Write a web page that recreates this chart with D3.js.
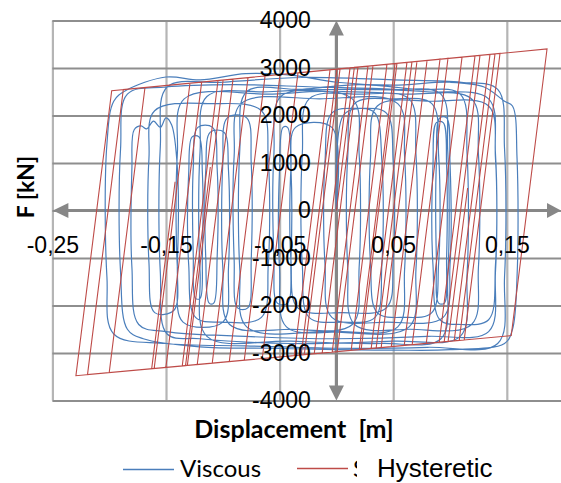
<!DOCTYPE html>
<html>
<head>
<meta charset="utf-8">
<script src="https://cdn.jsdelivr.net/npm/d3@7/dist/d3.min.js"></script>
<style>
  body { margin: 0; background: #fff; }
  svg { display: block; }
</style>
</head>
<body>
<div id="chart"></div>
<script>
// tick values
const xTicks = [-0.25, -0.15, -0.05, 0.05, 0.15];
const yTicks = [-4000, -3000, -2000, -1000, 0, 1000, 2000, 3000, 4000];
const seriesNames = ["Viscous", "Hysteretic"];

// viscous damper: [displacement m, force kN]
const viscous = [
  [0.000,0],[0.006,2000],[0.020,2150],[0.034,2050],[0.040,1050],
  [0.040,-1150],[0.034,-2250],[0.005,-2350],[-0.024,-2250],[-0.030,-1150],
  [-0.030,1200],[-0.024,2350],[0.020,2450],[0.064,2350],[0.070,1200],
  [0.070,-1250],[0.064,-2450],[-0.010,-2550],[-0.079,-2450],[-0.085,-1250],
  [-0.085,1300],[-0.079,2500],[-0.030,2550],[0.020,2650],[0.070,2550],[0.109,2450],[0.115,1200],
  [0.115,-1350],[0.109,-2650],[0.050,-2750],[-0.040,-2800],[-0.120,-2700],[-0.149,-2600],[-0.155,-1300],
  [-0.155,1350],[-0.149,2600],[-0.100,2700],[-0.030,2800],[0.050,2750],[0.110,2700],[0.142,2550],[0.148,1300],
  [0.148,-1400],[0.142,-2800],[0.080,-2880],[0.000,-2900],[-0.080,-2850],[-0.150,-2800],[-0.196,-2600],[-0.202,-1400],
  [-0.202,1400],[-0.196,2300],[-0.185,2530],[-0.150,2810],[-0.120,2750],[-0.080,2880],[-0.040,2850],[0.000,2700],[0.050,2640],[0.100,2700],[0.130,2600],[0.148,2300],[0.155,2200],[0.159,1100],
  [0.159,-1400],[0.155,-2500],[0.148,-2800],[0.100,-2930],[0.050,-2940],[0.000,-2930],[-0.060,-2900],[-0.120,-2870],[-0.170,-2700],[-0.184,-2500],[-0.190,-1300],
  [-0.190,1300],[-0.184,2450],[-0.150,2600],[-0.090,2650],[-0.020,2600],[0.050,2550],[0.092,2450],[0.098,1250],
  [0.098,-1400],[0.092,-2700],[0.040,-2800],[-0.040,-2750],[-0.114,-2650],[-0.120,-1300],
  [-0.120,1250],[-0.114,2400],[-0.060,2500],[0.010,2550],[0.080,2500],[0.134,2350],[0.140,1200],
  [0.140,-1300],[0.134,-2550],[0.080,-2650],[0.000,-2700],[-0.080,-2650],[-0.150,-2550],[-0.174,-2400],[-0.180,-1200],
  [-0.180,900],[-0.178,1700],[-0.172,1780],[-0.167,1720],[-0.161,1880],[-0.155,1750],[-0.150,1950],[-0.145,1800],[-0.140,900],
  [-0.140,-1100],[-0.143,-2100],[-0.160,-2150],[-0.165,-1100],
  [-0.165,1100],[-0.160,2100],[-0.110,2250],[-0.066,2100],[-0.060,1100],
  [-0.060,-1150],[-0.066,-2250],[-0.100,-2350],[-0.124,-2250],[-0.130,-1150],
  [-0.130,800],[-0.127,1550],[-0.121,1550],[-0.118,800],
  [-0.118,-950],[-0.120,-1850],[-0.124,-1850],[-0.126,-950],
  [-0.126,900],[-0.122,1750],[-0.109,1750],[-0.105,900],
  [-0.105,-1000],[-0.108,-1950],[-0.112,-1950],[-0.115,-1000],
  [-0.115,850],[-0.111,1650],[-0.099,1650],[-0.095,850],
  [-0.095,-1200],[-0.100,-2350],[-0.135,-2350],[-0.140,-1200],
  [-0.140,1200],[-0.134,2350],[-0.060,2450],[0.014,2350],[0.020,1200],
  [0.020,-1200],[0.014,-2400],[-0.040,-2500],[-0.094,-2400],[-0.100,-1200],
  [-0.100,1000],[-0.096,1950],[-0.079,1950],[-0.075,1000],
  [-0.075,-1050],[-0.078,-2050],[-0.087,-2050],[-0.090,-1050],
  [-0.090,1150],[-0.084,2250],[-0.015,2350],[0.054,2250],[0.060,1150],
  [0.060,-1250],[0.054,-2450],[0.005,-2550],[-0.044,-2450],[-0.050,-1250],
  [-0.050,900],[-0.047,1750],[-0.043,1750],[-0.040,900],
  [-0.040,-1000],[-0.043,-1950],[-0.052,-1950],[-0.055,-1000],
  [-0.055,1200],[-0.049,2400],[0.000,2500],[0.060,2450],[0.119,2350],[0.125,1200],
  [0.125,-1200],[0.119,-2400],[0.065,-2500],[0.016,-2400],[0.010,-1200],
  [0.010,1150],[0.016,2250],[0.050,2350],[0.084,2250],[0.090,1150],
  [0.090,-1100],[0.084,-2150],[0.060,-2250],[0.036,-2150],[0.030,-1100],
  [0.030,1100],[0.036,2200],[0.085,2300],[0.134,2200],[0.140,1100],
  [0.140,-1150],[0.134,-2300],[0.110,-2400],[0.091,-2300],[0.085,-1150],
  [0.085,950],[0.088,1850],[0.094,1850],[0.097,950],
  [0.097,-1000],[0.095,-1950],[0.090,-1950],[0.088,-1000],
  [0.088,1000],[0.091,1950],[0.097,1950],[0.100,1000],
  [0.100,-1150],[0.094,-2250],[0.045,-2350],[-0.004,-2250],[-0.010,-1150],
  [-0.010,1050],[-0.004,2050],[0.020,2150],[0.044,2050],[0.050,1050],
  [0.050,-1050],[0.044,-2050],[0.005,-2150],[-0.034,-2050],[-0.040,-1050],
  [-0.040,900],[-0.036,1750],[-0.004,1750],[0.000,0]
];

// hysteretic damper: [displacement m, force kN] (vertices of the bilinear path)
const hysteretic = [
  [0,0],[0.0158,3015],[0.0445,3078],[0.0130,-2944],[-0.0371,-3055],[-0.0056,2963],
  [0.0709,3138],[0.0394,-2886],[-0.0943,-3181],[-0.0628,2832],[0.1106,3229],[0.0791,-2798],
  [-0.1357,-3272],[-0.1042,2737],[0.1352,3286],[0.1037,-2744],
  [-0.1328,-3266],[-0.111,916],[-0.1328,-3266],
  [-0.2000,-3414],[-0.1685,2589],[0.1854,3401],[0.1539,-2634],
  [0.0983,-2757],[0.1155,474],[0.0983,-2757],
  [-0.1626,-3331],[-0.142,606],[-0.1626,-3331],
  [-0.2293,-3478],[-0.1978,2522],[0.1440,3306],[0.1125,-2725],[-0.2191,-3456],[-0.1876,2545],
  [0.1396,3296],[0.1081,-2735],[-0.1604,-3326],[-0.1289,2680],[0.1264,3266],[0.0949,-2764],
  [-0.1501,-3304],[-0.1186,2704],[0.1220,3256],[0.0905,-2773],[-0.1312,-3262],[-0.0997,2747],
  [0.0982,3201],[0.0667,-2826],[-0.1225,-3243],[-0.0910,2767],[0.0912,3185],[0.0597,-2841],
  [-0.1093,-3214],[-0.0778,2797],[0.0798,3159],[0.0483,-2866],[-0.0811,-3152],[-0.0496,2862],
  [0.0665,3128],[0.0350,-2896],[-0.0653,-3117],[-0.0338,2898],[0.0621,3118],[0.0306,-2905],
  [-0.0310,-3041],[0.0005,2977],[0.0533,3098],[0.0218,-2925],[-0.0283,-3035],[0.0032,2983],
  [0.0516,3094],[0.0201,-2928],[-0.0195,-3016],[0.0120,3003],[0.0322,3049],[0.0007,-2971],
  [-0.0125,-3000],[0.0190,3019],[0.0278,3039],[-0.0037,-2981],[0.0119,0]
];

const width = 561, height = 483;
const plot = {left: 52.4, right: 561, top: 20.5, bottom: 400.5};
const blue = "#4a7ebb", red = "#be4b48";
const labelFont = "'Liberation Sans', Arial, sans-serif";
const titleFont = "Lato, 'Open Sans', sans-serif";

const x = d3.scaleLinear().domain([-0.25, 0.1977]).range([plot.left, plot.right]);
const y = d3.scaleLinear().domain([-4000, 4000]).range([plot.bottom, plot.top]);

const svg = d3.select("#chart").append("svg")
  .attr("width", width)
  .attr("height", height);

svg.append("defs").append("clipPath").attr("id", "plotclip")
  .append("rect")
  .attr("x", plot.left).attr("y", plot.top)
  .attr("width", plot.right - plot.left).attr("height", plot.bottom - plot.top);

// grid lines
svg.append("g")
  .attr("transform", "translate(0," + plot.bottom + ")")
  .call(d3.axisBottom(x).tickValues(xTicks).tickSize(-(plot.bottom - plot.top)).tickFormat(""))
  .call(g => g.select(".domain").remove())
  .call(g => g.selectAll("line").attr("stroke", "#b5b5b5").attr("stroke-width", 2.2));

svg.append("g")
  .attr("transform", "translate(" + plot.left + ",0)")
  .call(d3.axisLeft(y).tickValues(yTicks).tickSize(-(plot.right - plot.left)).tickFormat(""))
  .call(g => g.select(".domain").remove())
  .call(g => g.selectAll("line").attr("stroke", "#8e8e8e").attr("stroke-width", 2.2));

// axes through the origin with arrow heads
const axisGray = "#878787";
const x0 = x(0), y0 = y(0);
svg.append("line")
  .attr("x1", plot.left + 6).attr("x2", plot.right - 6)
  .attr("y1", y0).attr("y2", y0)
  .attr("stroke", axisGray).attr("stroke-width", 3.2);
svg.append("line")
  .attr("x1", x0).attr("x2", x0)
  .attr("y1", plot.top + 6).attr("y2", plot.bottom - 6)
  .attr("stroke", axisGray).attr("stroke-width", 3.2);

const arrows = [
  [[plot.left + 0.5, y0], [plot.left + 16, y0 - 7.5], [plot.left + 16, y0 + 7.5]],
  [[plot.right, y0], [plot.right - 14, y0 - 7.5], [plot.right - 14, y0 + 7.5]],
  [[x0, plot.top], [x0 - 7.5, plot.top + 15], [x0 + 7.5, plot.top + 15]],
  [[x0, plot.bottom], [x0 - 7.5, plot.bottom - 15], [x0 + 7.5, plot.bottom - 15]]
];
svg.append("g").selectAll("path")
  .data(arrows)
  .enter()
  .append("path")
  .attr("d", d => "M" + d.join("L") + "Z")
  .attr("fill", axisGray);

// series
const curves = svg.append("g").attr("clip-path", "url(#plotclip)");

curves.append("path")
  .datum(viscous)
  .attr("d", d3.line().x(d => x(d[0])).y(d => y(d[1])).curve(d3.curveCatmullRom.alpha(0.5)))
  .attr("fill", "none")
  .attr("stroke", blue)
  .attr("stroke-width", 1.2);

curves.append("path")
  .datum(hysteretic)
  .attr("d", d3.line().x(d => x(d[0])).y(d => y(d[1])))
  .attr("fill", "none")
  .attr("stroke", red)
  .attr("stroke-width", 1.1);

// tick labels, decimal comma and plain hyphen
const fmtX = d => d3.format(".2f")(d).replace(".", ",").replace("\u2212", "-");
const fmtY = d => String(d);

svg.append("g")
  .attr("transform", "translate(0," + y0 + ")")
  .call(d3.axisBottom(x).tickValues(xTicks).tickSize(0).tickPadding(26.5).tickFormat(fmtX))
  .call(g => g.select(".domain").remove())
  .call(g => g.selectAll("text")
    .attr("fill", "#000")
    .style("font-family", labelFont)
    .style("font-size", "23px"));

svg.append("g")
  .attr("transform", "translate(" + x0 + ",0)")
  .call(d3.axisLeft(y).tickValues(yTicks).tickSize(0).tickPadding(25.5).tickFormat(fmtY))
  .call(g => g.select(".domain").remove())
  .call(g => g.selectAll("text")
    .attr("fill", "#000")
    .style("font-family", labelFont)
    .style("font-size", "23px"));

// axis titles
svg.append("text")
  .attr("transform", "translate(34,187) rotate(-90)")
  .attr("text-anchor", "middle")
  .style("font-family", titleFont)
  .style("font-weight", "bold")
  .style("font-size", "23px")
  .text("F [kN]");

svg.append("text")
  .attr("x", 294)
  .attr("y", 438)
  .attr("text-anchor", "middle")
  .style("font-family", titleFont)
  .style("font-weight", "bold")
  .style("font-size", "25px")
  .style("white-space", "pre")
  .text("Displacement  [m]");

// legend
const legend = svg.append("g");
legend.append("line")
  .attr("x1", 123).attr("x2", 174).attr("y1", 469.5).attr("y2", 469.5)
  .attr("stroke", blue).attr("stroke-width", 1.3);
legend.append("text")
  .attr("x", 180).attr("y", 477)
  .style("font-family", titleFont)
  .style("font-size", "24px")
  .text(seriesNames[0]);

legend.append("line")
  .attr("x1", 297).attr("x2", 348).attr("y1", 468.5).attr("y2", 468.5)
  .attr("stroke", red).attr("stroke-width", 1.3);
// partly hidden first letter behind the label box
svg.select("defs").append("clipPath").attr("id", "legclip")
  .append("rect").attr("x", 353).attr("y", 455).attr("width", 4).attr("height", 25);
legend.append("text")
  .attr("x", 353).attr("y", 477)
  .attr("clip-path", "url(#legclip)")
  .style("font-family", titleFont)
  .style("font-size", "24px")
  .text("S");
legend.append("text")
  .attr("x", 377).attr("y", 477)
  .style("font-family", labelFont)
  .style("font-size", "26px")
  .text(seriesNames[1]);
</script>
</body>
</html>
